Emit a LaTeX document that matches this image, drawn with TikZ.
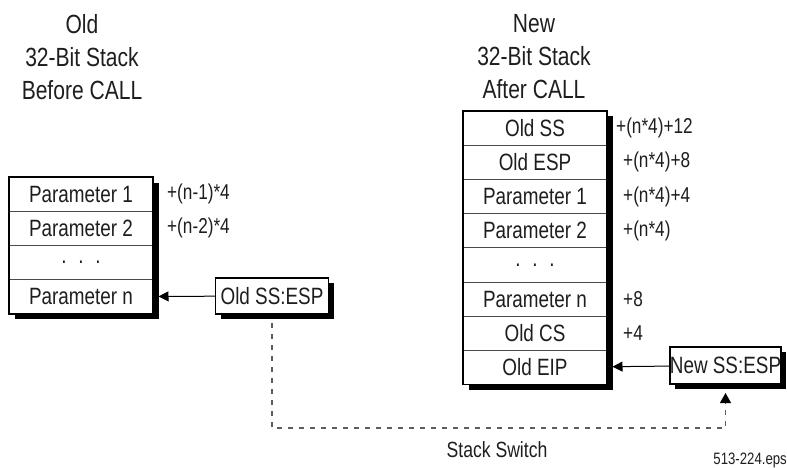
\documentclass[tikz,border=0pt]{standalone}
\usepackage{fontspec}
\setmainfont{Liberation Sans}[FakeStretch=0.8]
\usetikzlibrary{arrows.meta, positioning, backgrounds}
\definecolor{linegray}{HTML}{4A4A4A}
\definecolor{dashgray}{HTML}{5C5C5C}
\definecolor{inkblack}{HTML}{1E1E1E}

\begin{document}
\begin{tikzpicture}[
      x=1pt, y=-1pt,
      node distance=0pt,
      cell/.style={draw=linegray, line width=1pt, fill=white, minimum width=144pt, minimum height=34.2pt, inner sep=0pt, outer sep=0pt, font=\fontsize{23.6}{28}\selectfont, text=inkblack},
      espbox/.style={draw=black, line width=1.6pt, fill=white, minimum width=113pt, minimum height=36pt, inner sep=0pt, outer sep=0pt, font=\fontsize{23.6}{28}\selectfont, text=inkblack},
      shade/.style={fill=black},
      title/.style={align=center, font=\fontsize{26.3}{33}\selectfont, text=inkblack},
      offlab/.style={font=\fontsize{21.5}{26}\selectfont, text=inkblack, inner sep=0pt},
      ptr/.style={-{Triangle[length=10pt, width=10pt]}, line width=1pt, black},
      switch/.style={-{Triangle[length=10pt, width=11pt, color=black]}, line width=1.2pt, dashgray, dash pattern=on 5pt off 6pt}
  ]
    \useasboundingbox (0,0) rectangle (787,468);

    % old stack, before CALL
    \node[title] (oldtitle) at (82,57) {Old\\32-Bit Stack\\Before CALL};
    \node[cell] (p1) at (81,194.1) {Parameter 1};
    \node[cell, below=of p1] (p2) {Parameter 2};
    \node[cell, below=of p2] (pdots) {.\,\,\,.\,\,\,.};
    \node[cell, below=of pdots] (pn) {Parameter n};
    \draw[line width=1.6pt, black] (p1.north west) rectangle (pn.south east);

    \node[offlab, right=14pt of p1] (o1) {+(n-1)*4};
    \node[offlab, right=14pt of p2] (o2) {+(n-2)*4};

    \node[espbox] (oldesp) at (272,296) {Old SS:ESP};
    \draw[ptr, shorten >=5.5pt] (oldesp) -- (pn);

    % new stack, after CALL
    \node[title] (newtitle) at (534,57) {New\\32-Bit Stack\\After CALL};
    \node[cell] (s1) at (535,128.1) {Old SS};
    \node[cell, below=of s1] (s2) {Old ESP};
    \node[cell, below=of s2] (s3) {Parameter 1};
    \node[cell, below=of s3] (s4) {Parameter 2};
    \node[cell, below=of s4] (sdots) {.\,\,\,.\,\,\,.};
    \node[cell, below=of sdots] (sn) {Parameter n};
    \node[cell, below=of sn] (scs) {Old CS};
    \node[cell, below=of scs] (seip) {Old EIP};
    \draw[line width=1.6pt, black] (s1.north west) rectangle (seip.south east);

    \node[offlab, right=9pt of s1] (n1) {+(n*4)+12};
    \node[offlab, right=16pt of s2] (n2) {+(n*4)+8};
    \node[offlab, right=16pt of s3] (n3) {+(n*4)+4};
    \node[offlab, right=16pt of s4] (n4) {+(n*4)};
    \node[offlab, right=16pt of sn] (n5) {+8};
    \node[offlab, right=16pt of scs] (n6) {+4};

    \node[espbox, minimum width=111pt, minimum height=37pt] (newesp) at (725.5,365.5) {New SS:ESP};
    \draw[ptr, shorten >=5.5pt] (newesp) -- (seip);

    % drop shadows
    \begin{scope}[on background layer]
      \fill[shade] ([shift={(5.5,5.5)}]p1.north west) rectangle ([shift={(5.5,5.5)}]pn.south east);
      \fill[shade] ([shift={(5.5,5.5)}]s1.north west) rectangle ([shift={(5.5,5.5)}]seip.south east);
      \fill[shade] ([shift={(5,4.5)}]oldesp.north west) rectangle ([shift={(5,4.5)}]oldesp.south east);
      \fill[shade] ([shift={(5,4.5)}]newesp.north west) rectangle ([shift={(5,4.5)}]newesp.south east);
    \end{scope}

    % stack switch
    \draw[switch, shorten <=9pt, shorten >=9pt] (oldesp.south) -- ++(0,114) -| (newesp.south);
    \node[font=\fontsize{22}{26}\selectfont, text=inkblack] (swlab) at (497,450) {Stack Switch};
    \node[font=\fontsize{16.5}{19}\selectfont, text=inkblack, anchor=east, inner sep=0pt] (epsname) at (787,460) {513-224.eps};
  \end{tikzpicture}
\end{document}
